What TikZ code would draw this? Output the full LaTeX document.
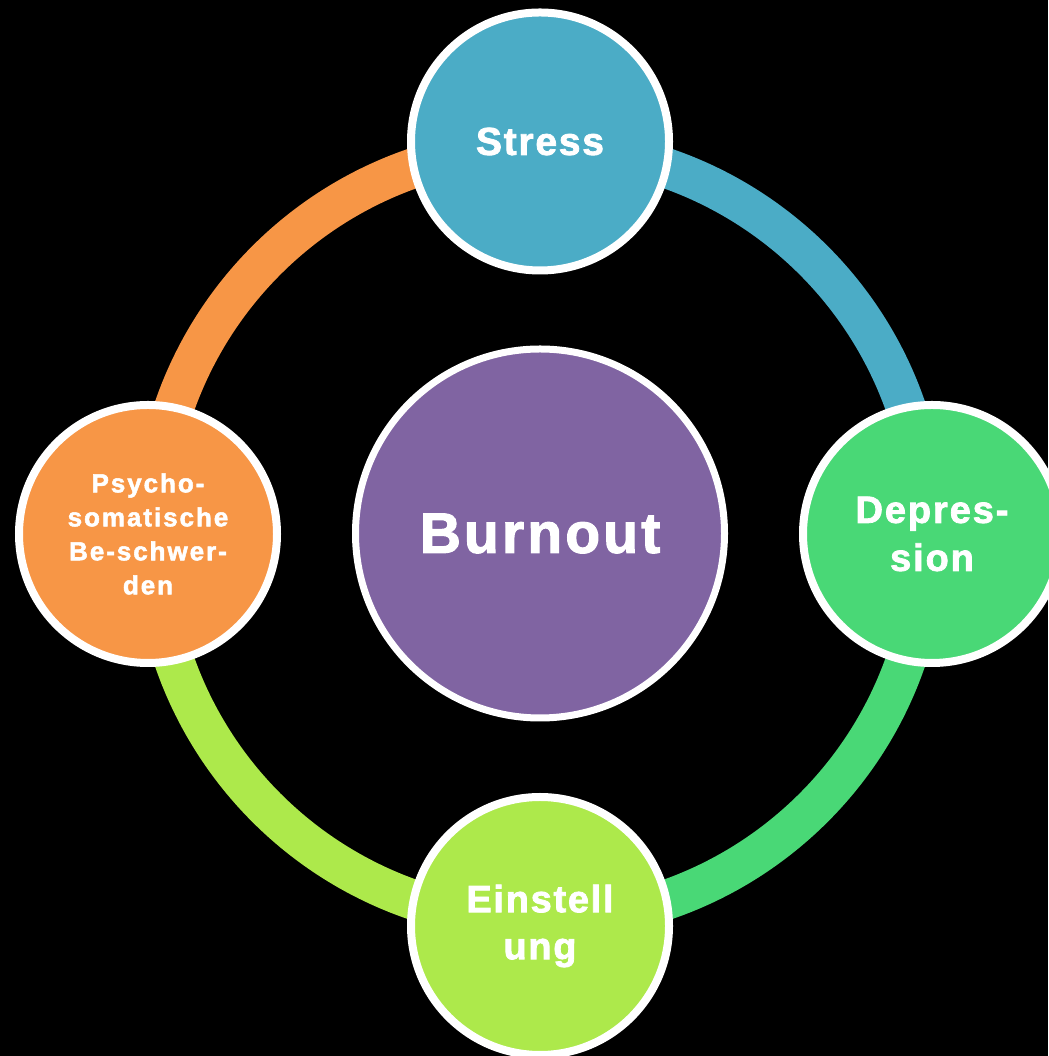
\documentclass[tikz,border=0pt]{standalone}
\usepackage{fontspec}
\setmainfont{Liberation Sans}
\definecolor{cBlue}{HTML}{4BACC6}
\definecolor{cGreen}{HTML}{49D876}
\definecolor{cLime}{HTML}{ADE94B}
\definecolor{cOrange}{HTML}{F79646}
\definecolor{cPurple}{HTML}{8064A2}
\tikzset{
  ringarc/.style={line width=40pt},
  satellite/.style={circle, draw=white, line width=8pt, minimum size=258pt, inner sep=0pt, text=white, align=center},
  hub/.style={circle, draw=white, line width=7pt, minimum size=369pt, inner sep=0pt, text=white, align=center},
}
\begin{document}
\begin{tikzpicture}[x=1pt,y=1pt]
\fill[black] (0,0) rectangle (1048,1056);
\useasboundingbox (0,0) rectangle (1048,1056);
\coordinate (C) at (540,522);
% positions of the satellites on the ring
\coordinate (pS) at (540,909);
\coordinate (pD) at (927,522);
\coordinate (pE) at (540,135);
\coordinate (pP) at (153,522);
% ring arcs
\draw[ringarc, cOrange] (pP) arc[start angle=180, end angle=90, radius=387];
\draw[ringarc, cBlue] (pS) arc[start angle=90, end angle=0, radius=387];
\draw[ringarc, cGreen] (pD) arc[start angle=0, end angle=-90, radius=387];
\draw[ringarc, cLime] (pE) arc[start angle=-90, end angle=-180, radius=387];
% circles
\node[hub, fill=cPurple, font={\fontsize{57}{60}\selectfont\bfseries\addfontfeature{LetterSpace=5.5,FakeBold=2}}] (burnout) at (540,522.5) {Burnout};
\node[satellite, fill=cBlue, font={\fontsize{39}{47}\selectfont\bfseries\addfontfeature{LetterSpace=4.5,FakeBold=2}}] (stress) at (540,914.5) {Stress};
\node[satellite, fill=cGreen, font={\fontsize{38}{48}\selectfont\bfseries\addfontfeature{LetterSpace=5,FakeBold=2}}] (depr) at (932,522) {Depres-\\sion};
\node[satellite, fill=cLime, font={\fontsize{38}{47}\selectfont\bfseries\addfontfeature{LetterSpace=4.5,FakeBold=2}}] (einst) at (540,130) {Einstell\\ung};
\node[satellite, fill=cOrange, font={\fontsize{26}{34}\selectfont\bfseries\addfontfeature{LetterSpace=7.5,FakeBold=2}}] (psy) at (148,522) {Psycho-\\somatische\\Be-schwer-\\den};
\end{tikzpicture}
\end{document}
